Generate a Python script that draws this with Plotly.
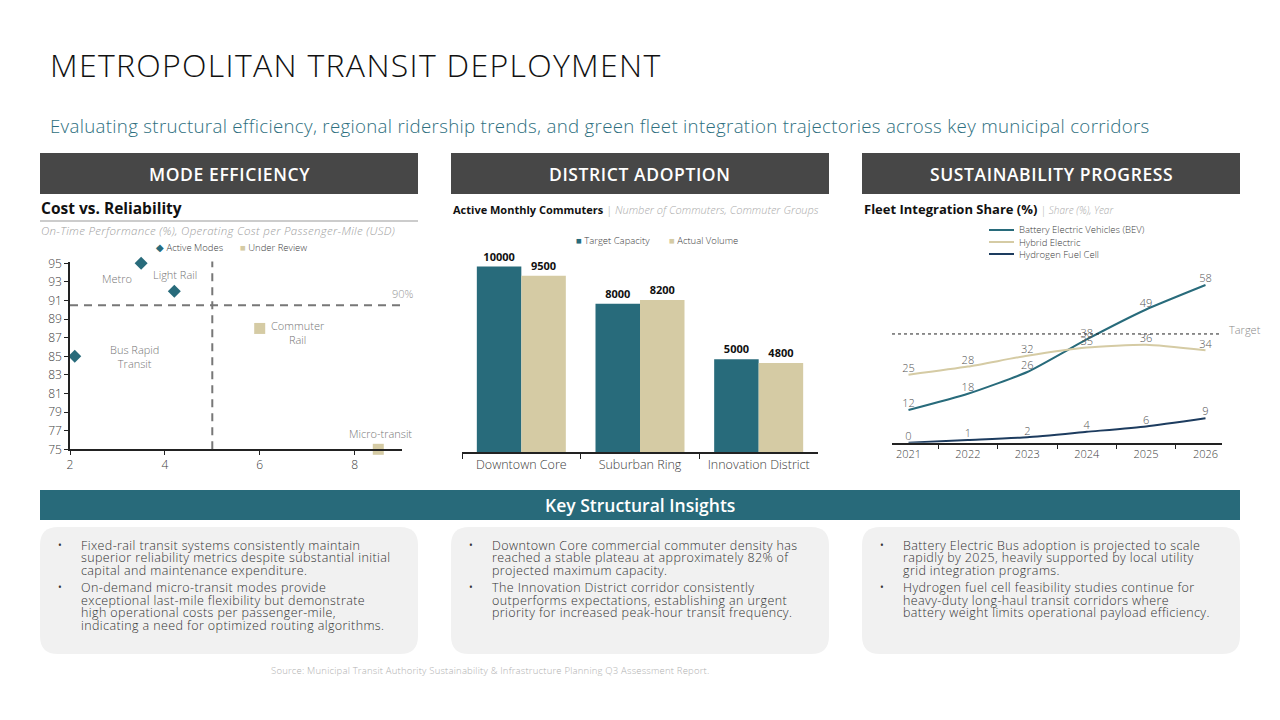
import plotly.graph_objects as go

W, H = 1280, 720
FONT = "'Open Sans', Lato, sans-serif"
TEAL = "#286b7b"
TAN = "#d5cba4"
NAVY = "#1d3c5f"
GREY_HDR = "#474747"
TXT = "#404040"

# ---------------- data ----------------
active_modes = ["Metro", "Light Rail", "Bus Rapid<br>Transit"]
active_cost = [3.5, 4.2, 2.1]
active_ontime = [95, 92, 85]
review_modes = ["Commuter<br>Rail", "Micro-transit"]
review_cost = [6.0, 8.5]
review_ontime = [88, 75]
ontime_target = 90.5
cost_threshold = 5.0

districts = ["Downtown Core", "Suburban Ring", "Innovation District"]
target_capacity = [10000, 8000, 5000]
actual_volume = [9500, 8200, 4800]

years = ["2021", "2022", "2023", "2024", "2025", "2026"]
bev_share = [12, 18, 26, 38, 49, 58]
hybrid_share = [25, 28, 32, 35, 36, 34]
hydrogen_share = [0, 1, 2, 4, 6, 9]
share_target = 40

insights = [
    [["Fixed-rail transit systems consistently maintain",
      "superior reliability metrics despite substantial initial",
      "capital and maintenance expenditure."],
     ["On-demand micro-transit modes provide",
      "exceptional last-mile flexibility but demonstrate",
      "high operational costs per passenger-mile,",
      "indicating a need for optimized routing algorithms."]],
    [["Downtown Core commercial commuter density has",
      "reached a stable plateau at approximately 82% of",
      "projected maximum capacity."],
     ["The Innovation District corridor consistently",
      "outperforms expectations, establishing an urgent",
      "priority for increased peak-hour transit frequency."]],
    [["Battery Electric Bus adoption is projected to scale",
      "rapidly by 2025, heavily supported by local utility",
      "grid integration programs."],
     ["Hydrogen fuel cell feasibility studies continue for",
      "heavy-duty long-haul transit corridors where",
      "battery weight limits operational payload efficiency."]],
]


def px(x):
    return x / W


def py(y):
    return 1 - y / H


def spaced(s, ls):
    return "<span style='letter-spacing:%spx'>%s</span>" % (ls, s)


fig = go.Figure()

# ---------------- scatter (mode efficiency) ----------------
fig.add_trace(go.Scatter(
    x=active_cost, y=active_ontime, mode="markers", name="Active Modes",
    marker=dict(symbol="diamond", size=10, color=TEAL),
    xaxis="x", yaxis="y", showlegend=False, cliponaxis=False))
fig.add_trace(go.Scatter(
    x=review_cost, y=review_ontime, mode="markers", name="Under Review",
    marker=dict(symbol="square", size=11, color=TAN),
    xaxis="x", yaxis="y", showlegend=False, cliponaxis=False))

label_shift = {"Metro": (-24, -15), "Light Rail": (1, 17), "Bus Rapid<br>Transit": (60, 0),
               "Commuter<br>Rail": (38, -4), "Micro-transit": (2, 16)}
for names, xs, ys in [(active_modes, active_cost, active_ontime),
                      (review_modes, review_cost, review_ontime)]:
    for n, xv, yv in zip(names, xs, ys):
        dx, dy = label_shift[n]
        fig.add_annotation(x=xv, y=yv, xref="x", yref="y", text=n, showarrow=False,
                           xshift=dx, yshift=dy,
                           font=dict(family=FONT, size=11, color="#777777", weight=300))

fig.add_shape(type="line", xref="x", yref="y", x0=2, x1=9, y0=ontime_target, y1=ontime_target,
              line=dict(color="#777777", width=2, dash="8px,6px"))
fig.add_shape(type="line", xref="x", yref="y", x0=cost_threshold, x1=cost_threshold, y0=75, y1=95.3,
              line=dict(color="#777777", width=2, dash="8px,6px"))
fig.add_annotation(x=9, y=ontime_target, xref="x", yref="y", text="90%", showarrow=False,
                   xanchor="right", yanchor="bottom", yshift=2, xshift=14,
                   font=dict(family=FONT, size=11, color="#999999", weight=300))

axis_common = dict(showgrid=False, zeroline=False, showline=True, linecolor="#222222", linewidth=1.5,
                   ticks="outside", tickcolor="#222222", automargin=False)

fig.update_layout(
    xaxis=dict(domain=[px(70), px(402)], range=[2, 9], anchor="y", tickvals=[2, 4, 6, 8], ticklen=4,
               tickfont=dict(family=FONT, size=12, color=TXT, weight=300), **axis_common),
    yaxis=dict(domain=[py(449.3), py(261.5)], range=[75, 95.2], anchor="x", ticklen=4,
               tickvals=list(range(75, 96, 2)),
               tickfont=dict(family=FONT, size=12, color=TXT, weight=300), **axis_common),
)

# ---------------- bars (district adoption) ----------------
for name, vals, col in [("Target Capacity", target_capacity, TEAL), ("Actual Volume", actual_volume, TAN)]:
    fig.add_trace(go.Bar(x=districts, y=vals, name=name, marker_color=col,
                         text=vals, textposition="outside", cliponaxis=False,
                         textfont=dict(family=FONT, size=11, color="#111111", weight="bold"),
                         xaxis="x2", yaxis="y2", showlegend=False))
fig.update_layout(
    barmode="group", bargap=0.25, bargroupgap=0,
    xaxis2=dict(domain=[px(462), px(818)], anchor="y2", ticklen=5, tickson="boundaries", type="category",
                tickfont=dict(family=FONT, size=12.5, color=TXT, weight=300), **axis_common),
    yaxis2=dict(domain=[py(452), py(248)], range=[0, 11000], anchor="x2", visible=False, automargin=False),
)

# ---------------- lines (sustainability) ----------------
line_series = [("Battery Electric Vehicles (BEV)", bev_share, TEAL),
               ("Hybrid Electric", hybrid_share, TAN),
               ("Hydrogen Fuel Cell", hydrogen_share, NAVY)]
for name, vals, col in line_series:
    fig.add_trace(go.Scatter(x=years, y=vals, name=name, mode="lines+text",
                             text=[str(v) for v in vals], textposition="top center",
                             textfont=dict(family=FONT, size=11, color="#555555", weight=300),
                             line=dict(color=col, width=2, shape="spline", smoothing=0.5),
                             xaxis="x3", yaxis="y3", cliponaxis=False, showlegend=False))
fig.add_shape(type="line", xref="x3 domain", yref="y3", x0=0, x1=1, y0=share_target, y1=share_target,
              line=dict(color="#222222", width=1, dash="3px,3px"))
fig.add_annotation(x=1, y=share_target, xref="x3 domain", yref="y3", text="Target", showarrow=False,
                   xanchor="left", xshift=5, yshift=4,
                   font=dict(family=FONT, size=11, color="#888888", weight=300))
fig.update_layout(
    xaxis3=dict(domain=[px(892), px(1222)], anchor="y3", ticklen=5, tickson="boundaries", type="category",
                tickfont=dict(family=FONT, size=11, color=TXT, weight=300), **axis_common),
    yaxis3=dict(domain=[py(442.7), py(266)], range=[0, 65], anchor="x3", visible=False, automargin=False),
)

# ---------------- page decoration ----------------
shapes = []
annots = []


def text(x, y, s, size, color=TXT, xanchor="left", bold=False, italic=False, weight=None):
    w = weight if weight is not None else ("bold" if bold else "normal")
    annots.append(dict(x=px(x), y=py(y), xref="paper", yref="paper", text=s, showarrow=False,
                       xanchor=xanchor, yanchor="middle",
                       font=dict(family=FONT, size=size, color=color, weight=w,
                                 style="italic" if italic else "normal")))


# manual legend for line chart
for i, (name, vals, col) in enumerate(line_series):
    yy = 230 + 12 * i
    shapes.append(dict(type="line", xref="paper", yref="paper", x0=px(989), x1=px(1014), y0=py(yy), y1=py(yy),
                       line=dict(color=col, width=2)))
    text(1017, yy, name, 9.5, TXT, weight=300)

text(48, 64, spaced("METROPOLITAN TRANSIT DEPLOYMENT", 1.3), 32, "#111111", weight=300)
text(48, 125, spaced("Evaluating structural efficiency, regional ridership trends, and green fleet integration "
     "trajectories across key municipal corridors", 0.3), 18.7, "#2e6f80", weight=300)

panels = [(40, 418, "MODE EFFICIENCY"), (451, 829, "DISTRICT ADOPTION"), (862, 1240, "SUSTAINABILITY PROGRESS")]
for x0, x1, lbl in panels:
    shapes.append(dict(type="rect", xref="paper", yref="paper", x0=px(x0), x1=px(x1), y0=py(194), y1=py(153),
                       fillcolor=GREY_HDR, line=dict(width=0), layer="below"))
    text((x0 + x1) / 2, 173.5, spaced(lbl, 0.6), 17.5, "white", xanchor="center", weight=600)

# scatter headers
text(39, 208, "Cost vs. Reliability", 15.5, "#111111", weight=700)
shapes.append(dict(type="line", xref="paper", yref="paper", x0=px(40), x1=px(418), y0=py(221), y1=py(221),
                   line=dict(color="#999999", width=1)))
text(39, 231, spaced("On-Time Performance (%), Operating Cost per Passenger-Mile (USD)", 0.3), 11.5, "#a0a0a0",
     italic=True, weight=300)
text(154, 247, "<span style='color:%s'>◆</span> Active Modes" % TEAL, 9.5, TXT, weight=300)
text(238, 247, "<span style='color:%s'>■</span> Under Review" % TAN, 9.5, TXT, weight=300)

# bar headers
text(451, 209, "<b>Active Monthly Commuters</b> <span style='color:#aaaaaa;font-weight:300'>| <i>Number of Commuters, Commuter Groups</i></span>",
     11, "#111111")
text(574, 241, "<span style='color:%s'>■</span> Target Capacity" % TEAL, 9.5, TXT, weight=300)
text(667, 241, "<span style='color:%s'>■</span> Actual Volume" % TAN, 9.5, TXT, weight=300)

# line header
text(862, 209, "<b>Fleet Integration Share (%)</b> <span style='color:#aaaaaa;font-size:10px;font-weight:300'>| <i>Share (%), Year</i></span>",
     13, "#111111")

# insights banner
shapes.append(dict(type="rect", xref="paper", yref="paper", x0=px(40), x1=px(1240), y0=py(520), y1=py(490),
                   fillcolor="#286a7a", line=dict(width=0), layer="below"))
text(640, 505, "Key Structural Insights", 17.5, "white", xanchor="center", weight=600)


def rounded(x0, y0, x1, y1, r):
    rx, ry = r / W, r / H
    X0, X1, Y0, Y1 = px(x0), px(x1), py(y1), py(y0)
    return (f"M {X0+rx},{Y0} L {X1-rx},{Y0} Q {X1},{Y0} {X1},{Y0+ry} L {X1},{Y1-ry} "
            f"Q {X1},{Y1} {X1-rx},{Y1} L {X0+rx},{Y1} Q {X0},{Y1} {X0},{Y1-ry} "
            f"L {X0},{Y0+ry} Q {X0},{Y0} {X0+rx},{Y0} Z")


for (x0, x1, _), bullets in zip(panels, insights):
    shapes.append(dict(type="path", xref="paper", yref="paper", path=rounded(x0, 527, x1, 654, 18),
                       fillcolor="#f1f1f1", line=dict(width=0), layer="below"))
    y = 545
    for lines in bullets:
        text(x0 + 16, y, "•", 10, "#333333")
        for ln in lines:
            text(x0 + 39, y, spaced(ln, 0.4), 12.5, "#333333", weight=300)
            y += 12.6
        y += 4.6

text(490, 670, spaced("Source: Municipal Transit Authority Sustainability &amp; Infrastructure Planning Q3 Assessment Report.", 0.2),
     9.5, "#b0b0b0", xanchor="center", weight=300)

fig.update_layout(template="none", width=W, height=H, margin=dict(l=0, r=0, t=0, b=0, pad=0),
                  paper_bgcolor="white", plot_bgcolor="white", showlegend=False,
                  shapes=fig.layout.shapes + tuple(shapes),
                  annotations=fig.layout.annotations + tuple(annots), font=dict(family=FONT))

fig.write_html("out.html",
               post_script="document.body.style.margin='0';document.body.style.overflow='hidden';")
